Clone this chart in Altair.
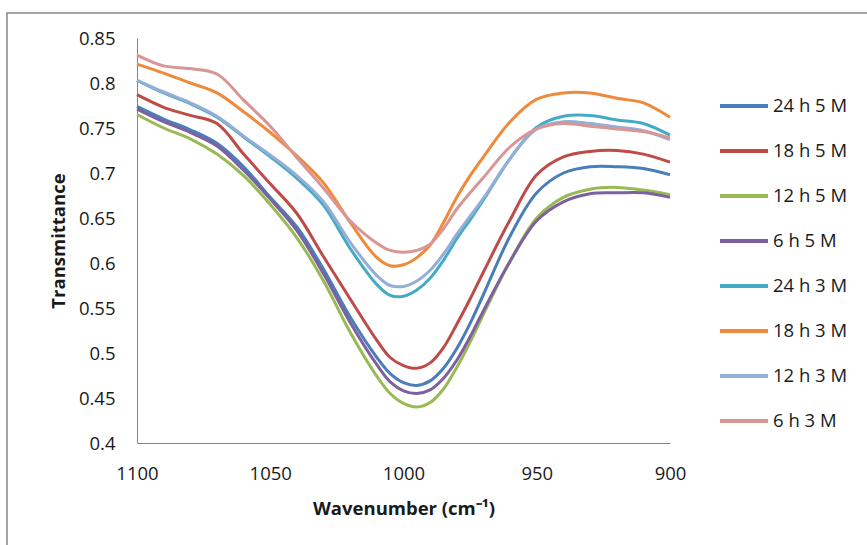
import altair as alt
import pandas as pd

wavenumber = [1100, 1090, 1080, 1070, 1060, 1050, 1040, 1030, 1020, 1010, 1005, 1000,
              995, 990, 985, 980, 975, 970, 960, 950, 940, 930, 920, 910, 900]

s24h5M = [0.774, 0.760, 0.748, 0.733, 0.707, 0.673, 0.640, 0.593, 0.540, 0.495, 0.477, 0.467,
          0.464, 0.469, 0.483, 0.505, 0.533, 0.565, 0.630, 0.678, 0.700, 0.707, 0.707, 0.705, 0.698]
s18h5M = [0.787, 0.773, 0.764, 0.755, 0.721, 0.688, 0.655, 0.607, 0.560, 0.514, 0.495, 0.486,
          0.483, 0.489, 0.506, 0.532, 0.560, 0.590, 0.648, 0.698, 0.718, 0.724, 0.725, 0.721, 0.712]
s12h5M = [0.765, 0.750, 0.738, 0.721, 0.697, 0.665, 0.628, 0.580, 0.523, 0.474, 0.455, 0.444,
          0.440, 0.445, 0.460, 0.484, 0.512, 0.543, 0.602, 0.650, 0.673, 0.682, 0.684, 0.681, 0.676]
s6h5M = [0.771, 0.757, 0.745, 0.730, 0.703, 0.671, 0.636, 0.588, 0.534, 0.487, 0.468, 0.458,
         0.455, 0.459, 0.472, 0.492, 0.518, 0.547, 0.602, 0.647, 0.668, 0.677, 0.678, 0.678, 0.673]
s24h3M = [0.803, 0.789, 0.777, 0.762, 0.740, 0.718, 0.694, 0.664, 0.616, 0.576, 0.564, 0.563,
          0.570, 0.583, 0.603, 0.627, 0.648, 0.670, 0.716, 0.751, 0.763, 0.764, 0.759, 0.755, 0.742]
s18h3M = [0.821, 0.811, 0.800, 0.789, 0.768, 0.745, 0.719, 0.689, 0.645, 0.606, 0.597, 0.598,
          0.606, 0.620, 0.645, 0.673, 0.697, 0.718, 0.757, 0.782, 0.789, 0.789, 0.783, 0.778, 0.762]
s12h3M = [0.803, 0.790, 0.778, 0.763, 0.741, 0.720, 0.697, 0.668, 0.623, 0.586, 0.575, 0.574,
          0.580, 0.592, 0.610, 0.632, 0.652, 0.672, 0.716, 0.749, 0.757, 0.755, 0.751, 0.747, 0.737]
s6h3M = [0.831, 0.819, 0.816, 0.810, 0.781, 0.752, 0.717, 0.683, 0.647, 0.622, 0.614, 0.612,
         0.614, 0.621, 0.638, 0.660, 0.678, 0.695, 0.729, 0.749, 0.755, 0.752, 0.749, 0.746, 0.739]

series_names = ["24 h 5 M", "18 h 5 M", "12 h 5 M", "6 h 5 M",
                "24 h 3 M", "18 h 3 M", "12 h 3 M", "6 h 3 M"]
series_values = [s24h5M, s18h5M, s12h5M, s6h5M, s24h3M, s18h3M, s12h3M, s6h3M]
series_colors = ["#4A7EBB", "#BE4B48", "#98B954", "#7D60A0",
                 "#46AAC5", "#F08A3A", "#95AED6", "#D99694"]

y_ticks = [0.4, 0.45, 0.5, 0.55, 0.6, 0.65, 0.7, 0.75, 0.8, 0.85]
x_ticks = [1100, 1050, 1000, 950, 900]

rows = []
for name, vals in zip(series_names, series_values):
    for w, v in zip(wavenumber, vals):
        rows.append({"Wavenumber": w, "Transmittance": v, "Series": name})
df = pd.DataFrame(rows)

FONT = "Open Sans"
TXT = "#1a1a1a"
LFS = 18.5

lines = alt.Chart(df).mark_line(strokeWidth=3, interpolate="catmull-rom").encode(
    x=alt.X("Wavenumber:Q",
            scale=alt.Scale(domain=[900, 1100], reverse=True, nice=False, zero=False),
            axis=alt.Axis(values=x_ticks, title="Wavenumber (cm⁻¹)", grid=False,
                          ticks=False, labelPadding=21, titlePadding=17,
                          labelFlush=False, labelOverlap=False,
                          domainColor="#868686", labelFontSize=LFS,
                          titleFontSize=LFS, labelColor=TXT, titleColor=TXT,
                          labelFont=FONT, titleFont=FONT, titleFontWeight="bold",
                          format="d")),
    y=alt.Y("Transmittance:Q",
            scale=alt.Scale(domain=[0.4, 0.85], nice=False, zero=False),
            axis=alt.Axis(values=y_ticks, title="Transmittance", grid=False,
                          ticks=False, labelPadding=22, titlePadding=10,
                          labelFlush=False, labelOverlap=False,
                          domainColor="#868686", labelFontSize=LFS,
                          titleFontSize=LFS, labelColor=TXT, titleColor=TXT,
                          labelFont=FONT, titleFont=FONT, titleFontWeight="bold",
                          format="~g")),
    color=alt.Color("Series:N",
                    scale=alt.Scale(domain=series_names, range=series_colors),
                    legend=alt.Legend(title=None, orient="none", legendX=581, legendY=42,
                                      symbolType="stroke", symbolSize=2304,
                                      symbolStrokeWidth=4, labelFontSize=LFS,
                                      labelFont=FONT, labelColor=TXT,
                                      labelOffset=3, rowPadding=9)),
    order=alt.Order("Wavenumber:Q", sort="descending"),
)

frame = alt.Chart(alt.Data(values=[{"k": 1}])).mark_rect(
    fill=None, stroke="#878787", strokeWidth=1.5
).encode(
    x=alt.value(-130), x2=alt.value(800), y=alt.value(-25), y2=alt.value(600)
)

chart = alt.layer(frame, lines).properties(
    width=533, height=405,
    padding={"left": 137, "top": 38, "right": 197, "bottom": 102},
    autosize=alt.AutoSizeParams(type="none"),
    background="white",
).configure_view(stroke=None)

chart.save("out.html", embed_options={"renderer": "svg", "actions": False})
